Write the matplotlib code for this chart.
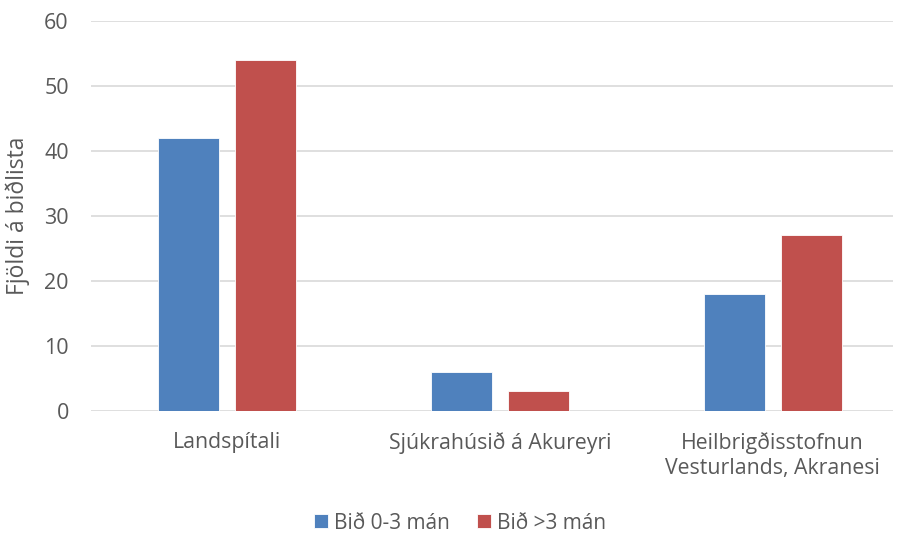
import numpy as np
import matplotlib.pyplot as plt

# Data
categories = ['Landspítali', 'Sjúkrahúsið á Akureyri', 'Heilbrigðisstofnun\nVesturlands, Akranesi']
short_wait = [42, 6, 18]
long_wait = [54, 3, 27]
series_names = ['Bið 0-3 mán', 'Bið >3 mán']
yticks = [0, 10, 20, 30, 40, 50, 60]

blue = '#4F81BD'
red = '#C0504D'
grey = '#595959'

plt.rcParams['font.family'] = ['Open Sans', 'DejaVu Sans']

fig = plt.figure(figsize=(8.99, 5.41), dpi=100)
ax = fig.add_axes([0.1012, 0.2403, 0.892, 0.7215])

x = np.arange(len(categories))
w = 0.2237
off = 0.141
b1 = ax.bar(x - off, short_wait, w, color=blue, edgecolor='white', linewidth=0.6, zorder=3, label=series_names[0])
b2 = ax.bar(x + off, long_wait, w, color=red, edgecolor='white', linewidth=0.6, zorder=3, label=series_names[1])

ax.set_xlim(-0.5, -0.5 + 802 / 272.7)
ax.set_ylim(0, 60)
ax.set_yticks(yticks)
ax.set_xticks(x)
ax.set_xticklabels(categories, fontsize=15.3, color=grey, linespacing=1.25)
ax.tick_params(axis='y', labelsize=15.5, colors=grey, length=0, pad=16)
ax.tick_params(axis='x', length=0, pad=15)
ax.grid(axis='y', color='#D9D9D9', linewidth=1.2, zorder=0)
for s in ax.spines.values():
    s.set_visible(False)

ax.set_ylabel('Fjöldi á biðlista', fontsize=16.5, color=grey, labelpad=10)

fig.legend(handles=[b1, b2], loc='center', bbox_to_anchor=(0.512, 0.033), ncol=2,
           frameon=False, fontsize=15, labelcolor=grey, handlelength=0.65, handleheight=0.65,
           handletextpad=0.3, columnspacing=1.3)

fig.savefig('out.png', dpi=100)
